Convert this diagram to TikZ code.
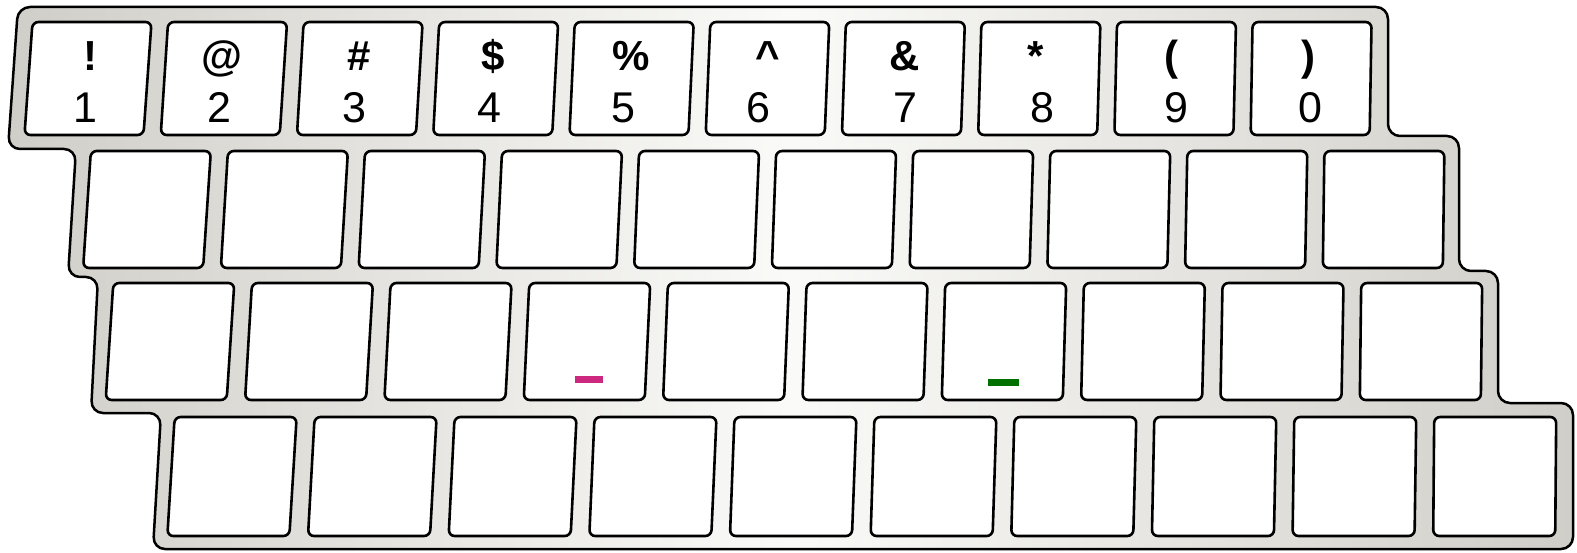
\documentclass[tikz,border=0pt]{standalone}
\usepackage{fontspec}
\setmainfont{Liberation Sans}
\definecolor{framedark}{RGB}{208,206,200}
\definecolor{framelight}{RGB}{250,250,248}
\definecolor{pinkmark}{RGB}{205,40,128}
\definecolor{greenmark}{RGB}{0,112,0}
\tikzset{
  keybox/.style={draw=black, fill=white, line width=2.6pt, rounded corners=6pt},
  symlabel/.style={anchor=base, inner sep=0pt, font=\fontsize{42}{42}\selectfont\bfseries},
  diglabel/.style={anchor=base, inner sep=0pt, font=\fontsize{43}{43}\selectfont},
  markbar/.style={draw=none, inner sep=0pt, minimum width=28pt, minimum height=7pt},
}
\newcommand\kbrow[5]{%
  \foreach \i in {0,...,9}{
    \pgfmathsetmacro\cx{#3+#4*\i}
    \pgfmathsetmacro\hs{4-3.5*(\cx-90)/1400}
    \pgfmathsetmacro\xbl{\cx-#5-\hs}
    \pgfmathsetmacro\xbr{\cx+#5-\hs}
    \pgfmathsetmacro\xtl{\cx-#5+\hs}
    \pgfmathsetmacro\xtr{\cx+#5+\hs}
    \draw[keybox] (\xbl,#2) -- (\xbr,#2) -- (\xtr,#1) -- (\xtl,#1) -- cycle;
  }}
\begin{document}
\begin{tikzpicture}[x=1pt,y=-1pt]
\useasboundingbox (0,0) rectangle (1577,553);
% frame
\path[draw=black, line width=2.5pt, rounded corners=12pt,
      left color=framedark, right color=framedark, middle color=framelight]
  (18,7) -- (1388,7) -- (1388,136) -- (1459,136) -- (1459,271)
  -- (1498,271) -- (1498,403) -- (1573,403) -- (1573,549)
  -- (153,549) -- (161,413) -- (91,413) -- (98,277) -- (68,277)
  -- (76,149) -- (8,149) -- cycle;
% keys
\kbrow{22}{135}{88}{135.9}{59.5}
\kbrow{151}{268}{147}{137.4}{60}
\kbrow{283}{400}{170}{139}{60.5}
\kbrow{417}{536}{232}{140.3}{61}
% labels, top row
\node[symlabel] (s1) at (90.5,71) {!};
\node[symlabel] (s2) at (222,71) {@};
\node[symlabel] (s3) at (359,71) {\#};
\node[symlabel] (s4) at (493,71) {\$};
\node[symlabel] (s5) at (631.5,71) {\%};
\node[symlabel] (s6) at (768,71) {\textasciicircum};
\node[symlabel] (s7) at (905,71) {\&};
\node[symlabel] (s8) at (1036,71) {*};
\node[symlabel] (s9) at (1171.5,71) {(};
\node[symlabel] (s10) at (1308.5,71) {)};
\node[diglabel] (d1) at (85.5,123) {1};
\node[diglabel] (d2) at (219,123) {2};
\node[diglabel] (d3) at (354,123) {3};
\node[diglabel] (d4) at (489,123) {4};
\node[diglabel] (d5) at (623.5,123) {5};
\node[diglabel] (d6) at (758,123) {6};
\node[diglabel] (d7) at (905,123) {7};
\node[diglabel] (d8) at (1042,123) {8};
\node[diglabel] (d9) at (1176,123) {9};
\node[diglabel] (d10) at (1310,123) {0};
% marks
\node[markbar, fill=pinkmark] (mpink) at (589,379.5) {};
\node[markbar, fill=greenmark, minimum width=31pt] (mgreen) at (1003.5,382.5) {};
\end{tikzpicture}
\end{document}
